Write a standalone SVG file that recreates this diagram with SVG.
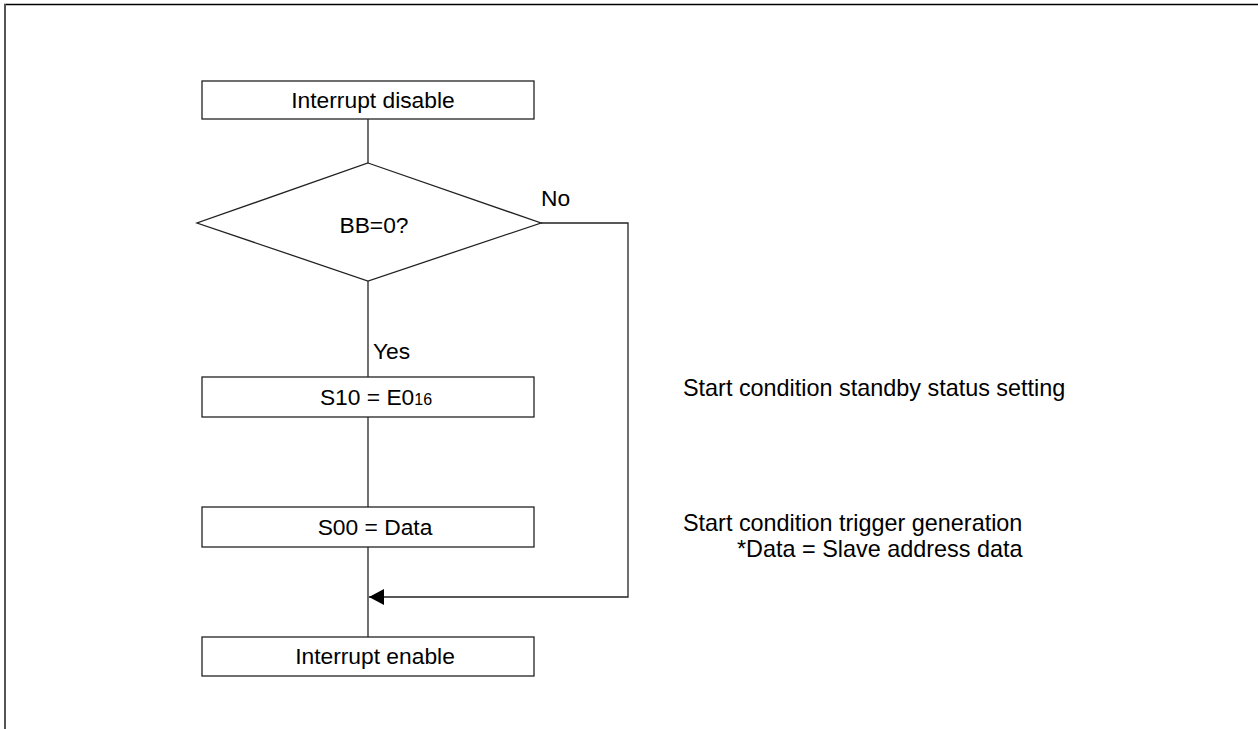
<svg xmlns="http://www.w3.org/2000/svg" width="1258" height="729" viewBox="0 0 1258 729">
<style>
.box{fill:#fff;stroke:#222;stroke-width:1.3}
.ln{fill:none;stroke:#222;stroke-width:1.3}
text{font-family:"Liberation Sans",Arial,sans-serif;font-size:22.8px;fill:#000}
.c{text-anchor:middle}
.note{font-size:23.4px}
</style>
<defs>
<marker id="arr" markerWidth="16" markerHeight="16" refX="15" refY="8" orient="auto" markerUnits="userSpaceOnUse">
<path d="M0,0 L15,8 L0,16 Z" fill="#000"/>
</marker>
</defs>
<rect width="1258" height="729" fill="#fff"/>
<g id="frame">
<line x1="4" y1="4.5" x2="1258" y2="4.5" stroke="#000" stroke-width="1.5"/>
<line x1="5" y1="4" x2="5" y2="729" stroke="#555" stroke-width="2"/>
</g>
<g id="connectors">
<line class="ln" x1="368" y1="119" x2="368" y2="163"/>
<line class="ln" x1="368" y1="281" x2="368" y2="377"/>
<line class="ln" x1="368" y1="417" x2="368" y2="507"/>
<line class="ln" x1="368" y1="547" x2="368" y2="637"/>
<path class="ln" d="M541,223 H628 V597 H369" marker-end="url(#arr)"/>
<text x="541" y="206">No</text>
<text x="373" y="359">Yes</text>
</g>
<g id="n1">
<rect class="box" x="202" y="81" width="332" height="38"/>
<text class="c" x="373" y="108">Interrupt disable</text>
</g>
<g id="n2">
<polygon class="box" points="368,163 541,223 368,281 197,223"/>
<text class="c" x="374" y="233">BB=0?</text>
</g>
<g id="n3">
<rect class="box" x="202" y="377" width="332" height="40"/>
<text class="c" x="376" y="405">S10 = E0<tspan font-size="16px">16</tspan></text>
</g>
<g id="n4">
<rect class="box" x="202" y="507" width="332" height="40"/>
<text class="c" x="375" y="535">S00 = Data</text>
</g>
<g id="n5">
<rect class="box" x="202" y="637" width="332" height="39"/>
<text class="c" x="375" y="664">Interrupt enable</text>
</g>
<g id="notes">
<text class="note" x="683" y="396">Start condition standby status setting</text>
<text class="note" x="683" y="531">Start condition trigger generation</text>
<text class="note" x="737" y="557">*Data = Slave address data</text>
</g>
</svg>
